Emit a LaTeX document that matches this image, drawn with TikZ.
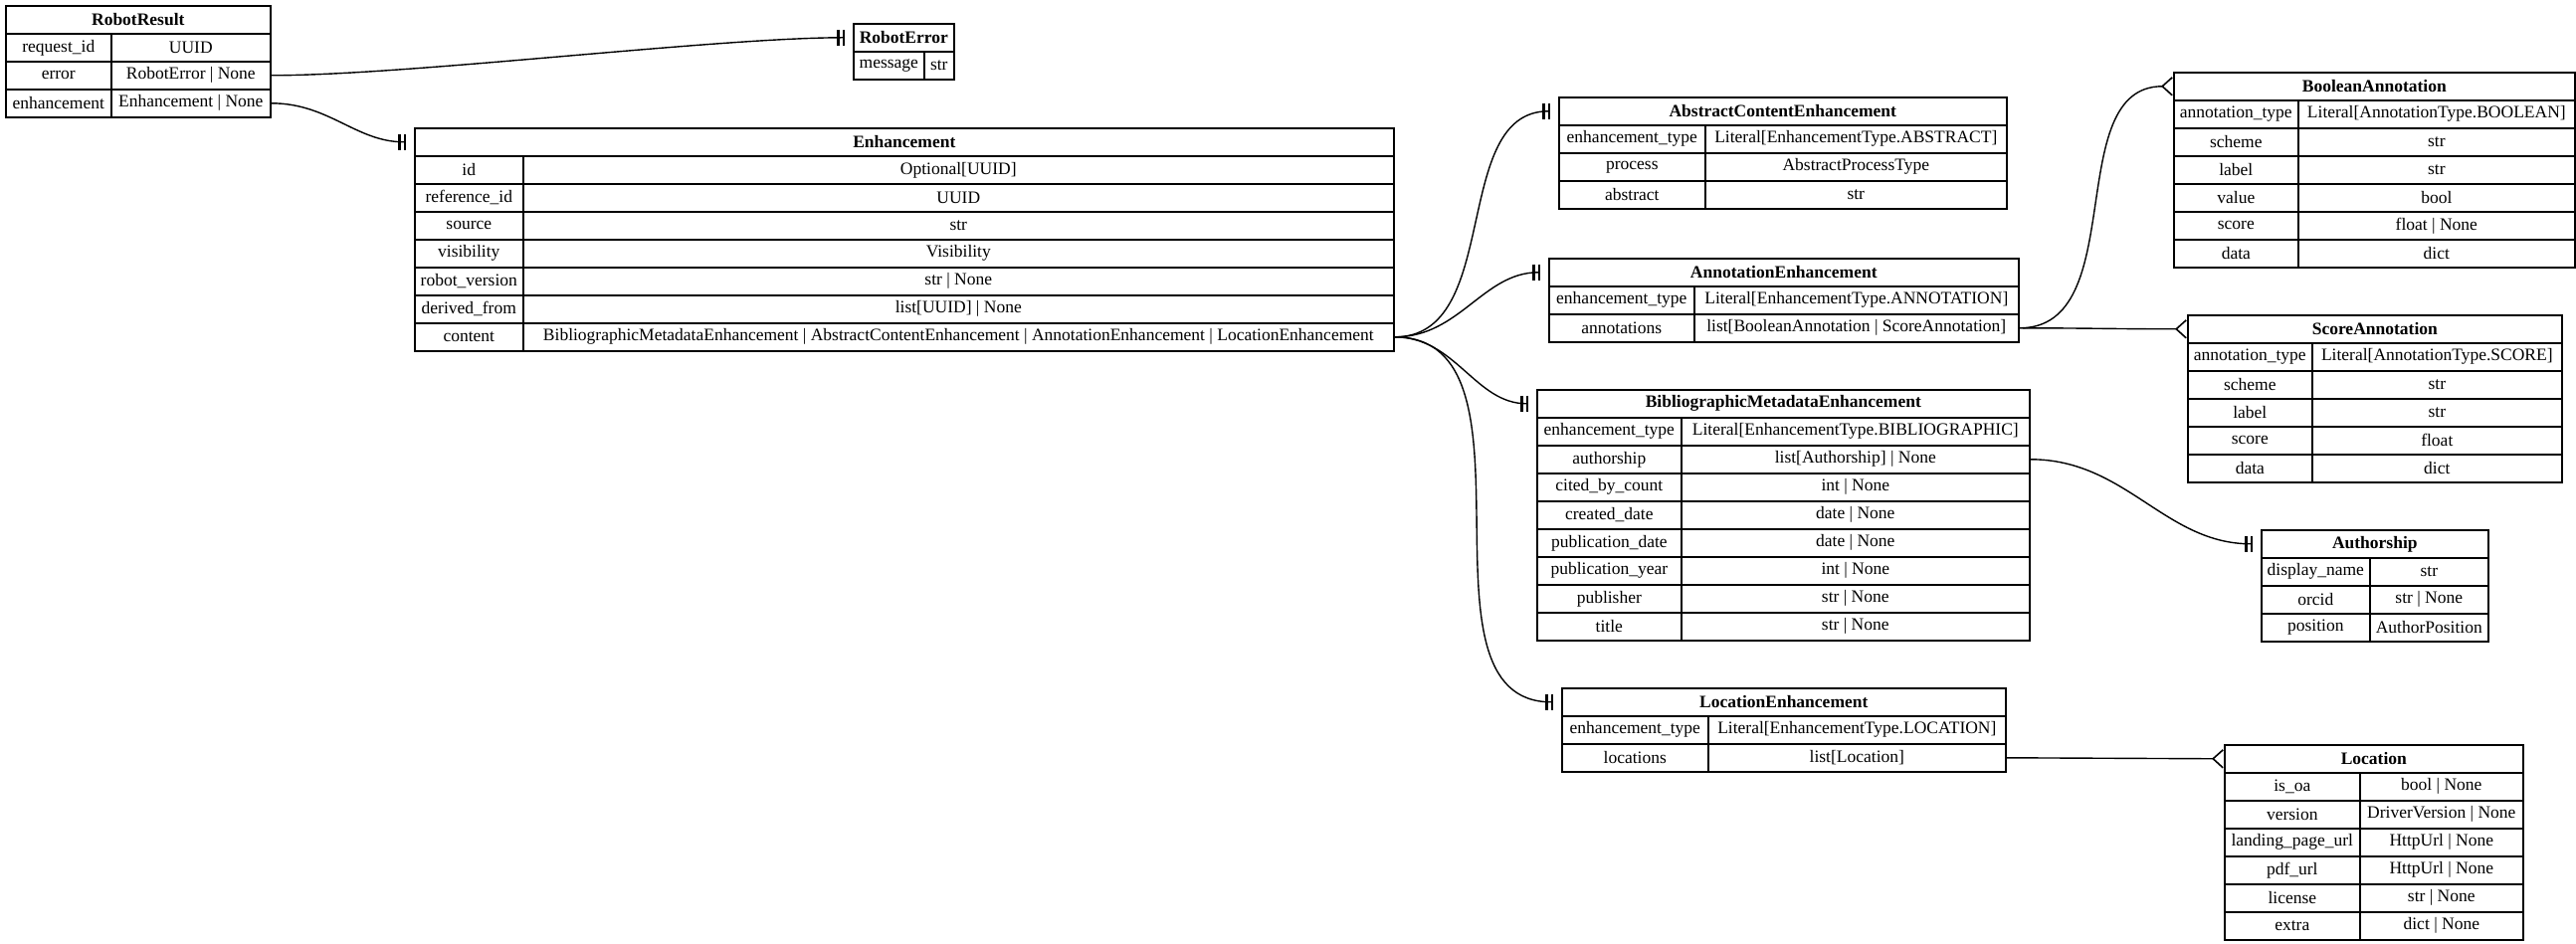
\documentclass[tikz,border=0pt]{standalone}
\usepackage{fontspec}
\setmainfont{Liberation Serif}
\usetikzlibrary{arrows.meta}
\tikzset{
  x=1pt,y=-1pt,
  cellbox/.style={draw,line width=1.6pt,inner sep=0pt,minimum height=28pt,anchor=north west,font=\fontsize{17.5}{18}\selectfont},
  one/.style={-{Bar[width=16pt,line width=2.4pt,sep=3pt]Bar[width=16pt,line width=2.4pt,sep=8pt]}},
  many/.style={-{Straight Barb[reversed,length=10pt,width=18pt,line width=1.6pt]}},
  link/.style={line width=1.4pt},
}
\newcommand\erdtable[7]{%
  \node[cellbox,minimum width={(#4-#2)*1pt}] (#1) at (#2,#5) {\textbf{#6}};
  \foreach \k/\v [count=\i] in {#7} {
    \node[cellbox,minimum width={(#3-#2)*1pt}] (#1-\i l) at (#2,{#5+28*\i}) {\k};
    \node[cellbox,minimum width={(#4-#3)*1pt}] (#1-\i) at (#3,{#5+28*\i}) {\v};
  }%
}
\begin{document}
\begin{tikzpicture}
\useasboundingbox (0,0) rectangle (2589,949);
\erdtable{RR}{5}{111}{271}{5}{RobotResult}{request\_id/UUID, error/RobotError | None, enhancement/Enhancement | None}
\erdtable{RE}{857}{928}{958}{23}{RobotError}{message/str}
\erdtable{EN}{416}{525}{1400}{128}{Enhancement}{id/Optional[UUID], reference\_id/UUID, source/str, visibility/Visibility, robot\_version/str | None, derived\_from/list[UUID] | None, content/BibliographicMetadataEnhancement | AbstractContentEnhancement | AnnotationEnhancement | LocationEnhancement}
\erdtable{ACE}{1566}{1713}{2016}{97}{AbstractContentEnhancement}{enhancement\_type/Literal[EnhancementType.ABSTRACT], process/AbstractProcessType, abstract/str}
\erdtable{AE}{1556}{1702}{2028}{259}{AnnotationEnhancement}{enhancement\_type/Literal[EnhancementType.ANNOTATION], annotations/list[BooleanAnnotation | ScoreAnnotation]}
\erdtable{BA}{2184}{2309}{2587}{72}{BooleanAnnotation}{annotation\_type/Literal[AnnotationType.BOOLEAN], scheme/str, label/str, value/bool, score/float | None, data/dict}
\erdtable{SA}{2198}{2323}{2574}{316}{ScoreAnnotation}{annotation\_type/Literal[AnnotationType.SCORE], scheme/str, label/str, score/float, data/dict}
\erdtable{BME}{1544}{1689}{2039}{391}{BibliographicMetadataEnhancement}{enhancement\_type/Literal[EnhancementType.BIBLIOGRAPHIC], authorship/list[Authorship] | None, cited\_by\_count/int | None, created\_date/date | None, publication\_date/date | None, publication\_year/int | None, publisher/str | None, title/str | None}
\erdtable{AU}{2272}{2381}{2500}{532}{Authorship}{display\_name/str, orcid/str | None, position/AuthorPosition}
\erdtable{LE}{1569}{1716}{2015}{691}{LocationEnhancement}{enhancement\_type/Literal[EnhancementType.LOCATION], locations/list[Location]}
\erdtable{LOC}{2235}{2371}{2535}{748}{Location}{is\_oa/bool | None, version/DriverVersion | None, landing\_page\_url/HttpUrl | None, pdf\_url/HttpUrl | None, license/str | None, extra/dict | None}

\draw[link,one] (RR-2.east) to[out=0,in=180,looseness=0.6] (RE.west);
\draw[link,one] (RR-3.east) to[out=0,in=180] (EN.west);
\draw[link,one] (EN-7.east) to[out=0,in=180] (ACE.west);
\draw[link,one] (EN-7.east) to[out=0,in=180] (AE.west);
\draw[link,one] (EN-7.east) to[out=0,in=180] (BME.west);
\draw[link,one] (EN-7.east) to[out=0,in=180] (LE.west);
\draw[link,many] (AE-2.east) to[out=0,in=180] (BA.west);
\draw[link,many] (AE-2.east) to[out=0,in=180] (SA.west);
\draw[link,one] (BME-2.east) to[out=0,in=180] (AU.west);
\draw[link,many] (LE-2.east) -- (LOC.west);
\end{tikzpicture}
\end{document}
